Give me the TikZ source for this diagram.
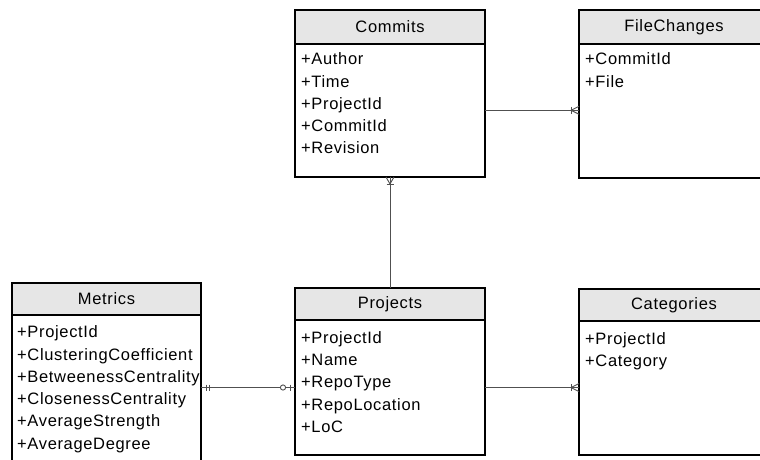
\documentclass[tikz,border=0pt]{standalone}
\usepackage{fontspec}
\setmainfont{Liberation Sans}[LetterSpace=4.0]
\usetikzlibrary{calc}
\definecolor{hdrgray}{HTML}{E6E6E6}
\definecolor{linkgray}{HTML}{505050}
\newcommand{\topstrut}{\rule{0pt}{12pt}}
\begin{document}
\begin{tikzpicture}[x=1pt,y=-1pt,
  font=\fontsize{16.5}{22.3}\selectfont,
  box/.style={draw=black, line width=2pt, minimum width=190pt, inner sep=0pt, outer sep=0pt},
  hdr/.style={box, fill=hdrgray},
  fields/.style={anchor=north west, align=left, inner sep=0pt},
  link/.style={draw=linkgray, line width=1pt},
  erdmark/.style={draw=linkgray, line width=0.9pt},
]
\useasboundingbox (0,0) rectangle (760,459);
\clip (0,0) rectangle (760,459);

% Commits
\node[box, minimum height=133.5pt] (cb) at (390,110.25) {};
\node[hdr, minimum height=33.5pt] (ch) at (390,26.75) {Commits};
\node[fields] (cf) at ($(cb.north west)+(6,9)$) {\topstrut+Author\\+Time\\+ProjectId\\+CommitId\\+Revision};

% FileChanges
\node[box, minimum height=134.5pt] (fb) at (674,110.75) {};
\node[hdr, minimum height=33.5pt] (fh) at (674,26.75) {FileChanges};
\node[fields] (ff) at ($(fb.north west)+(6,9)$) {\topstrut+CommitId\\+File};

% Metrics
\node[box, minimum width=189pt, minimum height=155pt] (mb) at (106.5,392.5) {};
\node[hdr, minimum width=189pt, minimum height=32pt] (mh) at (106.5,299) {Metrics};
\node[fields] (mf) at ($(mb.north west)+(5,10.5)$) {\topstrut+ProjectId\\+ClusteringCoefficient\\+BetweenessCentrality\\+ClosenessCentrality\\+AverageStrength\\+AverageDegree};

% Projects
\node[box, minimum height=135pt] (pb) at (390,387.5) {};
\node[hdr, minimum height=32pt] (ph) at (390,304) {Projects};
\node[fields] (pf) at ($(pb.north west)+(6,11)$) {\topstrut+ProjectId\\+Name\\+RepoType\\+RepoLocation\\+LoC};

% Categories
\node[box, minimum height=134pt] (kb) at (674,388) {};
\node[hdr, minimum height=32pt] (kh) at (674,305) {Categories};
\node[fields] (kf) at ($(kb.north west)+(6,11)$) {\topstrut+ProjectId\\+Category};

% Connectors
\coordinate (cfend) at (cb.east -| fb.west);
\coordinate (pkend) at (pb.east -| kb.west);
\coordinate (mpend) at (pb.west -| mb.east);
\draw[link] (cb.south) -- (ph.north);
\draw[link] (cb.east) -- (cfend);
\draw[link] (pb.east) -- (pkend);
\draw[link] (mpend) -- (pb.west);

% one-or-many at Commits
\draw[erdmark] ($(cb.south)+(-3.5,7)$) -- ($(cb.south)+(3.5,7)$);
\draw[erdmark] ($(cb.south)+(-4,0)$) -- ($(cb.south)+(0,7)$) -- ($(cb.south)+(4,0)$);
% one-or-many at FileChanges
\draw[erdmark] ($(cfend)+(-8,-3.5)$) -- ($(cfend)+(-8,3.5)$);
\draw[erdmark] ($(cfend)+(0,-4)$) -- ($(cfend)+(-8,0)$) -- ($(cfend)+(0,4)$);
% one-or-many at Categories
\draw[erdmark] ($(pkend)+(-8,-3.5)$) -- ($(pkend)+(-8,3.5)$);
\draw[erdmark] ($(pkend)+(0,-4)$) -- ($(pkend)+(-8,0)$) -- ($(pkend)+(0,4)$);
% one-and-only-one at Metrics
\draw[erdmark] ($(mpend)+(5,-3)$) -- ($(mpend)+(5,3)$);
\draw[erdmark] ($(mpend)+(8,-3)$) -- ($(mpend)+(8,3)$);
% zero-or-one at Projects
\draw[erdmark, fill=white] ($(pb.west)+(-12,0)$) circle (2.6pt);
\draw[erdmark] ($(pb.west)+(-5,-3)$) -- ($(pb.west)+(-5,3)$);
\end{tikzpicture}
\end{document}
